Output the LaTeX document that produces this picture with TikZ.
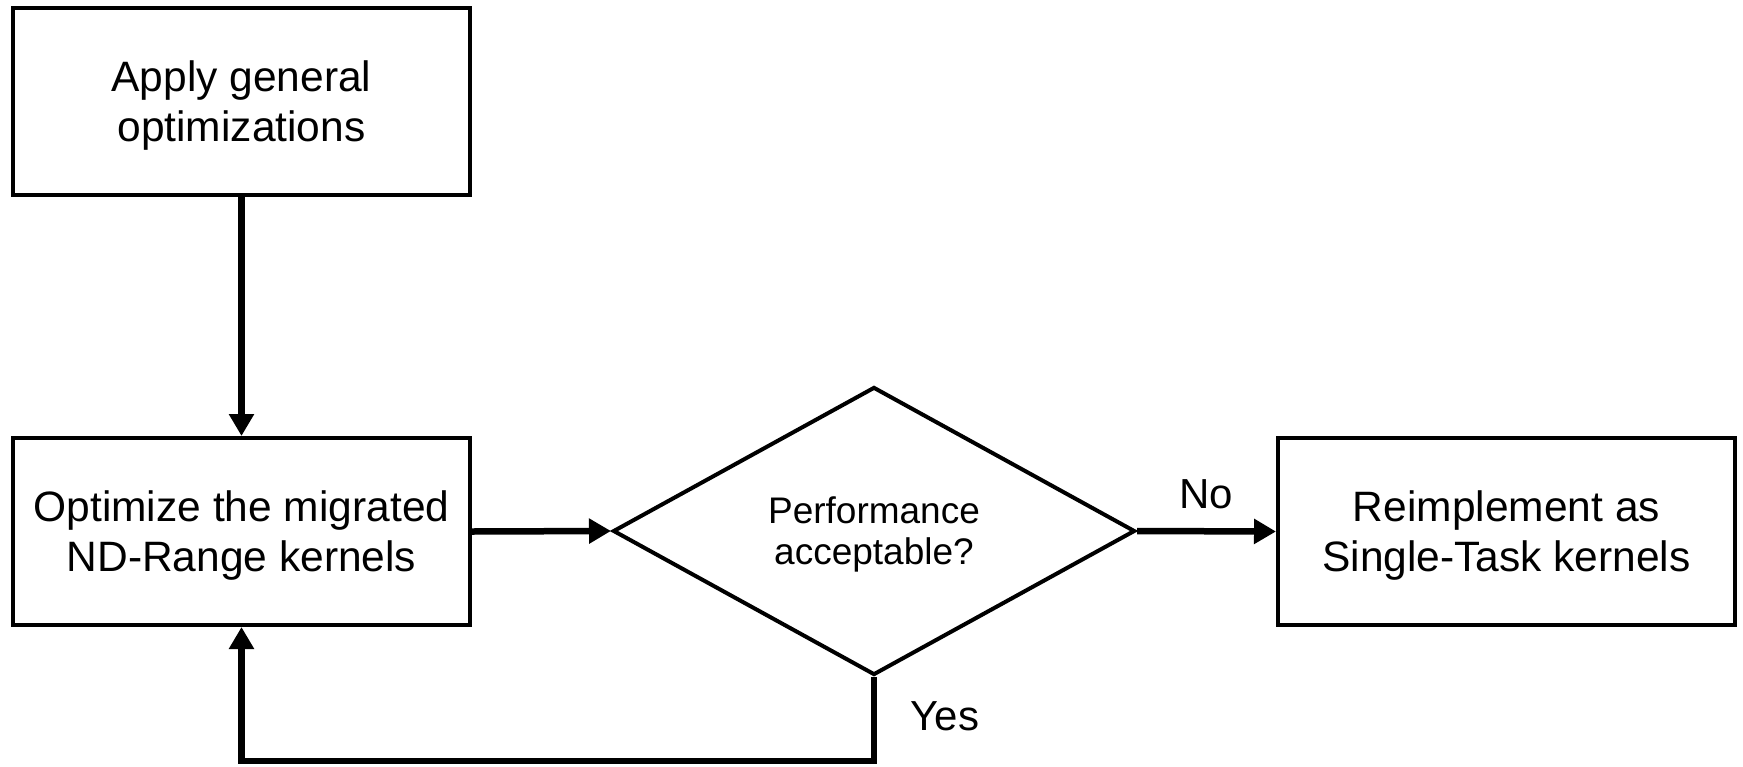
\documentclass[tikz,border=0pt]{standalone}
\usepackage{fontspec}
\setmainfont{Liberation Sans}
\usetikzlibrary{arrows.meta,shapes.geometric}
\begin{document}
\begin{tikzpicture}[x=1pt,y=-1pt,
  box/.style={draw,line width=4pt,minimum width=457pt,minimum height=187pt,align=center,
    inner sep=0pt,text depth=0pt,font=\fontsize{42.5}{50}\selectfont},
  decision/.style={draw,diamond,line width=4pt,minimum width=522pt,minimum height=288pt,
    align=center,inner sep=0pt,text depth=0pt,font=\fontsize{37}{41}\selectfont},
  conn/.style={line width=6.5pt,-{Triangle[length=22pt,width=24pt]}},
  lbl/.style={font=\fontsize{42}{50}\selectfont,inner sep=0pt}]
\useasboundingbox (0,0) rectangle (1743,766);
\node[box] (b1) at (241.5,101.5) {Apply general\\optimizations};
\node[box] (b2) at (241.5,531.5) {Optimize the migrated\\ND-Range kernels};
\node[decision] (d) at (874,531) {Performance\\acceptable?};
\node[box] (b3) at (1506.5,531.5) {Reimplement as\\Single-Task kernels};
\coordinate (lb) at (874,761);
\draw[conn] (b1) -- (b2);
\draw[conn] (b2.east) -- (d.west);
\draw[conn] (d.east) -- (b3.west);
\draw[conn] (d.south) -- (lb) -| (b2.south);
\node[lbl] (no) at (1206,494) {No};
\node[lbl] (yes) at (945,716) {Yes};
\end{tikzpicture}
\end{document}
